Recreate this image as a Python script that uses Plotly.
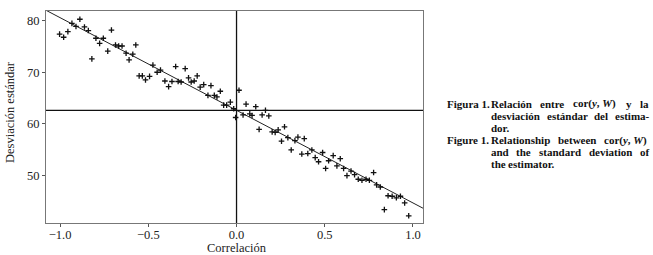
import plotly.graph_objects as go

# ---- data ----
corr = [-1.003, -0.98, -0.956, -0.933, -0.91, -0.888, -0.862, -0.84, -0.82, -0.797,
        -0.776, -0.755, -0.73, -0.709, -0.686, -0.668, -0.649, -0.626, -0.609, -0.588,
        -0.571, -0.552, -0.534, -0.516, -0.493, -0.474, -0.45, -0.431, -0.406, -0.385,
        -0.366, -0.345, -0.331, -0.314, -0.291, -0.272, -0.257, -0.24, -0.223, -0.206,
        -0.186, -0.162, -0.145, -0.126, -0.111, -0.092, -0.073, -0.056, -0.035, -0.016,
        -0.005, 0.014, 0.037, 0.054, 0.075, 0.088, 0.109, 0.128, 0.145, 0.164,
        0.183, 0.202, 0.219, 0.236, 0.255, 0.272, 0.291, 0.31, 0.331, 0.348,
        0.37, 0.384, 0.404, 0.427, 0.446, 0.465, 0.488, 0.505, 0.522, 0.548,
        0.569, 0.588, 0.607, 0.626, 0.649, 0.669, 0.69, 0.711, 0.734, 0.753,
        0.777, 0.794, 0.815, 0.838, 0.859, 0.882, 0.906, 0.929, 0.953, 0.976]
desv = [77.4, 76.8, 77.9, 79.5, 78.9, 80.3, 78.8, 78.1, 72.6, 76.6,
        75.6, 76.6, 74.1, 78.2, 75.3, 75.1, 75.1, 73.7, 72.4, 73.5,
        75.3, 69.3, 69.3, 68.5, 69.2, 71.4, 70.0, 70.4, 68.3, 67.2,
        68.2, 71.1, 68.2, 68.1, 70.7, 68.9, 68.1, 68.3, 69.3, 67.1,
        67.6, 65.5, 67.4, 65.5, 65.2, 66.3, 63.6, 63.6, 64.2, 62.9,
        61.2, 66.5, 61.7, 63.8, 61.9, 61.6, 63.3, 58.9, 61.7, 62.6,
        61.5, 58.4, 58.3, 58.8, 56.6, 59.4, 57.3, 54.9, 56.7, 57.4,
        54.1, 57.1, 54.2, 54.9, 53.4, 52.6, 54.4, 51.3, 52.8, 53.8,
        51.8, 53.2, 51.3, 49.9, 50.8, 50.1, 49.2, 49.0, 49.2, 49.0,
        50.5, 48.1, 47.7, 43.3, 46.0, 45.9, 45.6, 45.9, 44.6, 42.1]
fit_intercept = 62.6
fit_slope = -18.0
hline_value = 62.6
vline_value = 0.0
x_range = [-1.08, 1.057]
y_range = [40.7, 81.9]
x_ticks = [-1.0, -0.5, 0.0, 0.5, 1.0]
x_ticklabels = ["\u22121.0", "\u22120.5", "0.0", "0.5", "1.0"]
y_ticks = [50, 60, 70, 80]
x_title = "Correlación"
y_title = "Desviación estándar"
# (label, words, justified)
caption_lines = [
    ("Figura 1.", ["Relación", "entre", "cor(<i>y</i>, <i>W</i>)", "y", "la"], True),
    ("", ["desviación", "estándar", "del", "estima-"], True),
    ("", ["dor."], False),
    ("Figure 1.", ["Relationship", "between", "cor(<i>y</i>, <i>W</i>)"], True),
    ("", ["and", "the", "standard", "deviation", "of"], True),
    ("", ["the", "estimator."], False),
]

SERIF = "Liberation Serif"
W_PX, H_PX = 653, 255
L, R, T, B = 46, 230, 11, 32
PW, PH = W_PX - L - R, H_PX - T - B
CAP_SIZE = 11
CAP_LABEL_X = 446
CAP_TEXT_X0, CAP_TEXT_X1 = 490, 648
CAP_Y0, CAP_STEP = 104, 12

# approximate Times-Bold advance widths (1/1000 em) for justification
_w = dict(a=500, b=556, c=444, d=556, e=444, f=333, g=500, h=556, i=278, j=333,
          k=556, l=278, m=833, n=556, o=500, p=556, q=556, r=444, s=389, t=333,
          u=556, v=500, w=722, x=500, y=500, z=444)
_w.update({" ": 250, "(": 333, ")": 333, ",": 250, ".": 250, "-": 333,
           "R": 722, "W": 1000, "ó": 500, "á": 500, "F": 611, "1": 500})


def text_width(s):
    import re
    plain = re.sub(r"<[^>]+>", "", s)
    return sum(_w.get(ch, 500) for ch in plain) / 1000 * CAP_SIZE


def px_to_paper(xp, yp):
    return (xp - L) / PW, 1 - (yp - T) / PH


fig = go.Figure()

fit_x = x_range
fit_y = [fit_intercept + fit_slope * v for v in fit_x]
fig.add_trace(go.Scatter(x=fit_x, y=fit_y, mode="lines",
                         line=dict(color="#222", width=1), hoverinfo="skip",
                         showlegend=False))

fig.add_trace(go.Scatter(x=corr, y=desv, mode="markers",
                         marker=dict(symbol="cross-thin", size=4,
                                     line=dict(color="#111", width=1.3)),
                         showlegend=False))

fig.add_hline(y=hline_value, line=dict(color="#111", width=1.3))
fig.add_vline(x=vline_value, line=dict(color="#111", width=1.3))

axis_common = dict(showline=True, linecolor="#777", linewidth=1.2, mirror=True,
                   ticks="outside", ticklen=3, tickcolor="#555", tickwidth=1,
                   showgrid=False, zeroline=False, automargin=False,
                   tickfont=dict(family=SERIF, size=12.5, color="#222"))

fig.update_xaxes(range=x_range, tickvals=x_ticks, ticktext=x_ticklabels,
                 ticklabelstandoff=-3, **axis_common)
fig.update_yaxes(range=y_range, tickvals=y_ticks, **axis_common)

annotations = []
title_font = dict(family=SERIF, size=12.5, color="#222")
xp, yp = px_to_paper(237, 248)
annotations.append(dict(text=x_title, xref="paper", yref="paper", x=xp, y=yp,
                        xanchor="center", yanchor="middle", showarrow=False,
                        borderpad=0, font=title_font))
xp, yp = px_to_paper(10, 112)
annotations.append(dict(text=y_title, xref="paper", yref="paper", x=xp, y=yp,
                        xanchor="center", yanchor="middle", showarrow=False,
                        textangle=-90, borderpad=0, font=title_font))

font = dict(family=SERIF, size=CAP_SIZE, color="#111")
for i, (label, words, justify) in enumerate(caption_lines):
    ypix = CAP_Y0 + i * CAP_STEP
    if label:
        xp, yp = px_to_paper(CAP_LABEL_X, ypix)
        annotations.append(dict(text=f"<b>{label}</b>", xref="paper", yref="paper",
                                x=xp, y=yp, xanchor="left", yanchor="middle",
                                showarrow=False, borderpad=0, font=font))
    widths = [text_width(w) for w in words]
    if justify and len(words) > 1:
        gap = (CAP_TEXT_X1 - CAP_TEXT_X0 - sum(widths)) / (len(words) - 1)
    else:
        gap = 0.25 * CAP_SIZE
    xcur = CAP_TEXT_X0
    for wtxt, wd in zip(words, widths):
        xp, yp = px_to_paper(xcur, ypix)
        annotations.append(dict(text=f"<b>{wtxt}</b>", xref="paper", yref="paper",
                                x=xp, y=yp, xanchor="left", yanchor="middle",
                                showarrow=False, borderpad=0, font=font))
        xcur += wd + gap

fig.update_layout(width=W_PX, height=H_PX,
                  margin=dict(l=L, r=R, t=T, b=B),
                  paper_bgcolor="white", plot_bgcolor="white",
                  annotations=annotations)

fig.write_html("out.html", config={"displayModeBar": False},
               post_script="document.body.style.margin='0';document.body.style.padding='0';")
